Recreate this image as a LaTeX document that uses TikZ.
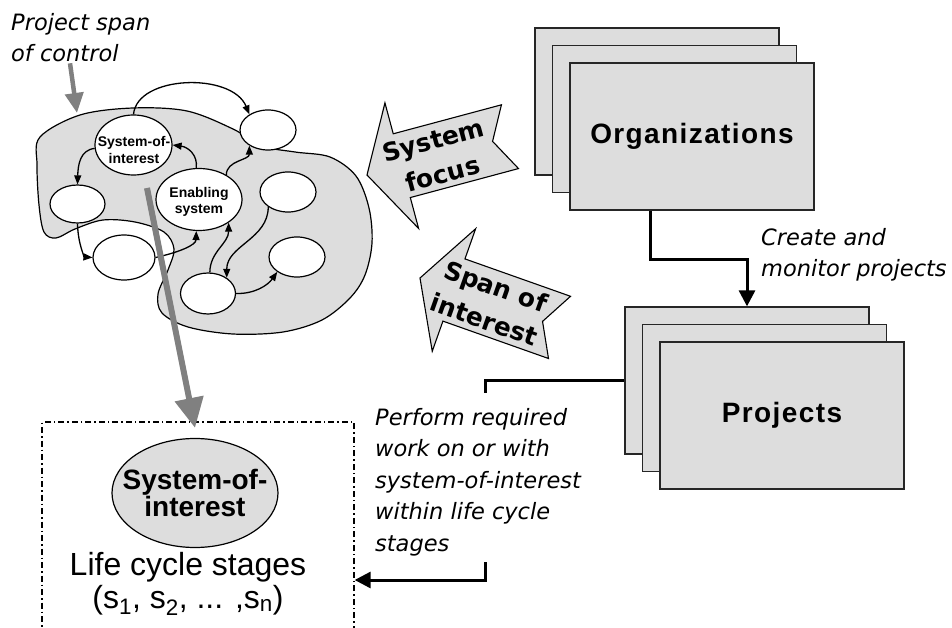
\documentclass[tikz,border=0pt]{standalone}
\usepackage{fontspec}
\setmainfont{Liberation Sans}
\newfontfamily\verdana{DejaVu Sans}
\newfontfamily\stackfont[LetterSpace=5]{Liberation Sans}
\usetikzlibrary{shapes.geometric,arrows.meta}
\definecolor{boxgray}{HTML}{DDDDDD}
\definecolor{bargray}{HTML}{808080}
\begin{document}
\begin{tikzpicture}[x=1pt,y=-1pt,
stack/.style={draw=black!85,fill=boxgray,line width=1.3pt,rectangle,inner sep=0pt,minimum width=244pt,minimum height=147pt,font=\stackfont\bfseries\fontsize{28}{32}\selectfont},
blobell/.style={draw,ellipse,fill=white,line width=1.2pt,inner sep=0pt},
blobtext/.style={inner sep=0pt,align=center,font=\bfseries\fontsize{14}{16.5}\selectfont},
conn/.style={-{Triangle[length=9pt,width=7pt]},line width=1.3pt},
flow/.style={line width=3pt},
flowarrow/.style={flow,-{Triangle[length=16pt,width=16pt]}},
note/.style={inner sep=0pt,align=left,font=\verdana\itshape\fontsize{22.5}{31.5}\selectfont},
arrowtext/.style={inner sep=0pt,align=center,font=\verdana\bfseries\fontsize{25}{35}\selectfont},
greybar/.style={draw=bargray,line width=#1},
blockarrow/.pic={\filldraw[fill=boxgray,draw=black,line width=1.1pt] (0,0) -- (36,-65) -- (36,-33) -- (148,-33) -- (130,0) -- (148,33) -- (36,33) -- (36,65) -- cycle;}]
\useasboundingbox (0,0) rectangle (952,628);
% span of control
\filldraw[fill=boxgray,line width=1.2pt] plot[smooth cycle,tension=0.55] coordinates {(40,137) (80,115) (133,108) (187,111) (233,129) (262,146) (295,152) (330,157) (356,176) (369,208) (372,243) (365,275) (350,298) (322,320) (283,332) (233,334) (188,327) (162,313) (158,294) (168,270) (174,249) (164,232) (135,222) (103,220) (75,229) (56,238) (44,232) (39,205) (37,165)};
\node[blobell,minimum width=77pt,minimum height=60pt] (soi) at (133.5,145) {};
\node[blobell,minimum width=56pt,minimum height=40pt] (tr) at (268,130) {};
\node[blobell,minimum width=86pt,minimum height=62pt] (es) at (199,199.5) {};
\node[blobell,minimum width=55pt,minimum height=38pt] (lf) at (77.5,204) {};
\node[blobell,minimum width=62pt,minimum height=45pt] (ll) at (124,257.5) {};
\node[blobell,minimum width=56pt,minimum height=40pt] (rm) at (288,192) {};
\node[blobell,minimum width=56pt,minimum height=40pt] (rl) at (297,257) {};
\node[blobell,minimum width=55pt,minimum height=41pt] (bt) at (208,293.5) {};
\node[blobtext] (soitxt) at (134,150) {System-of-\\interest};
\node[blobtext] (estxt) at (199,202) {Enabling\\system};
\draw[conn] (soi.north) .. controls (137,75) and (232,72) .. (tr.140);
\draw[conn] (es.95) .. controls (198,155) and (188,147) .. (soi.0);
\draw[conn] (soi.185) .. controls (80,150) and (78,165) .. (lf.north);
\draw[conn] (lf.south) .. controls (78,245) and (85,257) .. (ll.west);
\draw[conn] (ll.east) .. controls (180,252) and (196,245) .. (es.265);
\draw[conn] (es.42) to[out=90,in=-90] (tr.220);
\draw[conn] (bt.85) to[out=90,in=-90] (es.-38);
\draw[conn] (rm.217) to[out=-90,in=90] (bt.40);
\draw[conn] (bt.0) .. controls (255,294) and (268,285) .. (rl.217);
\node[note,anchor=north west] (psc) at (11,13) {Project span\\of control};
\coordinate (pscend) at (77,113);
\draw[greybar=4.5pt,-{Triangle[length=20pt,width=18pt]}] ([xshift=59pt,yshift=-1pt]psc.south west) -- (pscend);
% focus arrows
\pic[rotate=15] at (367,175) {blockarrow};
\node[arrowtext,rotate=15] (sysfocus) at (438,157) {System\\focus};
\pic[rotate=-19.5] at (420,278) {blockarrow};
\node[arrowtext,rotate=-19.5] (spanint) at (490,303) {Span of\\interest};
% organizations and projects
\node[stack] (org3) at (657,101.5) {};
\node[stack] (org2) at ([shift={(17.5,17.5)}]org3.center) {};
\node[stack] (org) at ([shift={(17.5,17.5)}]org2.center) {Organizations};
\node[stack] (prj3) at (747,380.5) {};
\node[stack] (prj2) at ([shift={(17.5,17.5)}]prj3.center) {};
\node[stack] (prj) at ([shift={(17.5,17.5)}]prj2.center) {Projects};
\draw[flowarrow] ([xshift=81pt]org.south west) -- ++(0,49) -| (prj3.north);
\node[note,anchor=north west] (cmp) at (761,228) {Create and\\monitor projects};
% life cycle
\node[draw,line width=1.3pt,dash pattern=on 6pt off 3pt on 1.5pt off 3pt,minimum width=312pt,minimum height=316pt] (lc) at (198,580) {};
\node[ellipse,draw,fill=boxgray,line width=1.2pt,minimum width=166pt,minimum height=109pt] (soi2) at (195,493) {};
\node[inner sep=0pt,align=center,font=\bfseries\fontsize{28}{27}\selectfont] (soi2txt) at (195,493) {System-of-\\interest};
\node[font=\fontsize{32}{34}\selectfont,inner sep=0pt] (lcs) at (188,567) {Life cycle stages};
\node[font=\fontsize{32}{34}\selectfont,inner sep=0pt] (stg) at (188,600) {(s\textsubscript{1}, s\textsubscript{2}, ... ,s\textsubscript{n})};
\coordinate (barstart) at (147,188);
\draw[greybar=6pt,-{Triangle[length=30pt,width=28pt]}] (barstart) -- ([yshift=10pt]soi2.north);
\coordinate (brk1) at (485,393);
\coordinate (brk2) at (485,562);
\draw[flow] (prj3.west) -| (brk1);
\draw[flowarrow] (brk2) |- (lc.east);
\node[note,anchor=north west] (work) at (375,408) {Perform required\\work on or with\\system-of-interest\\within life cycle\\stages};
\end{tikzpicture}
\end{document}
